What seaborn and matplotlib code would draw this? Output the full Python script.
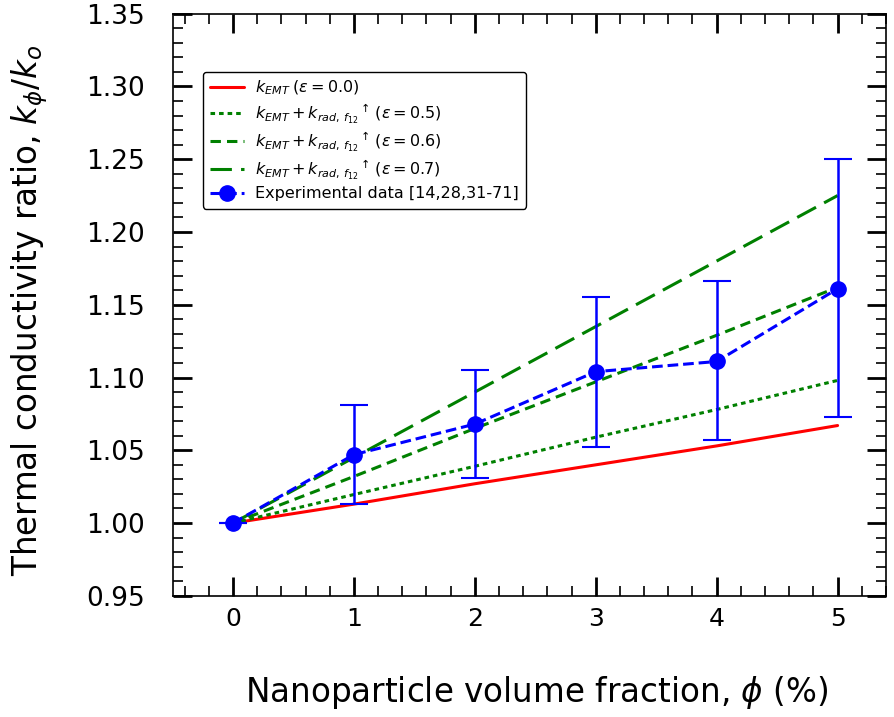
import numpy as np
import pandas as pd
import matplotlib
matplotlib.use("Agg")
import matplotlib.pyplot as plt
import seaborn as sns
from matplotlib.ticker import MultipleLocator, FormatStrFormatter
from matplotlib.lines import Line2D

# Nanoparticle volume fraction (%)
phi = [0, 1, 2, 3, 4, 5]

# Model predictions of k_phi/k_o
k_emt = [1.000, 1.013, 1.027, 1.040, 1.053, 1.067]
k_rad_05 = [1.000, 1.0196, 1.039, 1.059, 1.078, 1.098]
k_rad_06 = [1.000, 1.032, 1.065, 1.097, 1.129, 1.162]
k_rad_07 = [1.000, 1.045, 1.090, 1.135, 1.180, 1.225]

# Experimental data with error bounds
exp_mean = [1.000, 1.047, 1.068, 1.104, 1.111, 1.161]
exp_low = [1.000, 1.013, 1.031, 1.052, 1.057, 1.073]
exp_high = [1.000, 1.081, 1.105, 1.155, 1.166, 1.250]

sns.set_style("ticks")
plt.rcParams["font.family"] = ["DejaVu Sans"]
plt.rcParams["mathtext.fontset"] = "dejavusans"
for key in ("text.color", "axes.labelcolor", "xtick.color", "ytick.color", "axes.edgecolor"):
    plt.rcParams[key] = "black"

fig = plt.figure(figsize=(8.94, 7.17), dpi=100)
ax = fig.add_axes([0.193, 0.169, 0.798, 0.812])

sub = r"k_{EMT}+k_{rad,\,f_{12}}{}^{\uparrow}\,"
df = pd.DataFrame({"phi": phi, "emt": k_emt, "r05": k_rad_05, "r06": k_rad_06, "r07": k_rad_07})

sns.lineplot(data=df, x="phi", y="emt", ax=ax, color="red", lw=2.2,
             label=r"$k_{EMT}\;(\varepsilon=0.0)$")
sns.lineplot(data=df, x="phi", y="r05", ax=ax, color="green", lw=2.2,
             label=r"$" + sub + r"(\varepsilon=0.5)$")
ax.lines[-1].set_dashes([1.5, 1.3])
sns.lineplot(data=df, x="phi", y="r06", ax=ax, color="green", lw=2.2,
             label=r"$" + sub + r"(\varepsilon=0.6)$")
ax.lines[-1].set_dashes([3.4, 2.0])
sns.lineplot(data=df, x="phi", y="r07", ax=ax, color="green", lw=2.2,
             label=r"$" + sub + r"(\varepsilon=0.7)$")
ax.lines[-1].set_dashes([7.0, 3.0])

mean = np.array(exp_mean)
yerr = [mean - np.array(exp_low), np.array(exp_high) - mean]
ax.errorbar(phi, exp_mean, yerr=yerr, color="blue", ecolor="blue", lw=2.2, ls=(0, (3.5, 1.6)),
            marker="o", ms=11, capsize=10, elinewidth=1.8, capthick=1.5)

ax.set_xlim(-0.5, 5.4)
ax.set_ylim(0.95, 1.35)
ax.xaxis.set_major_locator(MultipleLocator(1))
ax.xaxis.set_minor_locator(MultipleLocator(0.2))
ax.yaxis.set_major_locator(MultipleLocator(0.05))
ax.yaxis.set_minor_locator(MultipleLocator(0.01))
ax.yaxis.set_major_formatter(FormatStrFormatter("%.2f"))
ax.tick_params(which="both", direction="in", top=True, right=True)
ax.tick_params(axis="x", which="major", labelsize=18, pad=8)
ax.tick_params(axis="y", which="major", labelsize=19, pad=20)
ax.tick_params(which="major", length=14, width=2)
ax.tick_params(which="minor", length=7, width=1.2)
for s in ax.spines.values():
    s.set_linewidth(1.2)

ax.set_xlabel(r"Nanoparticle volume fraction, $\phi$ (%)", fontsize=23.5)
ax.set_ylabel(r"Thermal conductivity ratio, $k_{\phi}/k_o$", fontsize=23.5)
ax.xaxis.set_label_coords(0.51, -0.135)
ax.yaxis.set_label_coords(-0.172, 0.49)

handles, labels = ax.get_legend_handles_labels()
handles.append(Line2D([], [], color="blue", lw=2.2, ls=(0, (3.5, 1.6)), marker="o", ms=11))
labels.append("Experimental data [14,28,31-71]")
leg = ax.legend(handles, labels, loc="upper left", bbox_to_anchor=(0.043, 0.900), fontsize=11.5,
                frameon=True, fancybox=True, edgecolor="black", framealpha=1, borderaxespad=0,
                handlelength=2.1, handletextpad=0.7, labelspacing=0.3, borderpad=0.45)
leg.get_frame().set_linewidth(1.0)

fig.savefig("out.png", dpi=100)
